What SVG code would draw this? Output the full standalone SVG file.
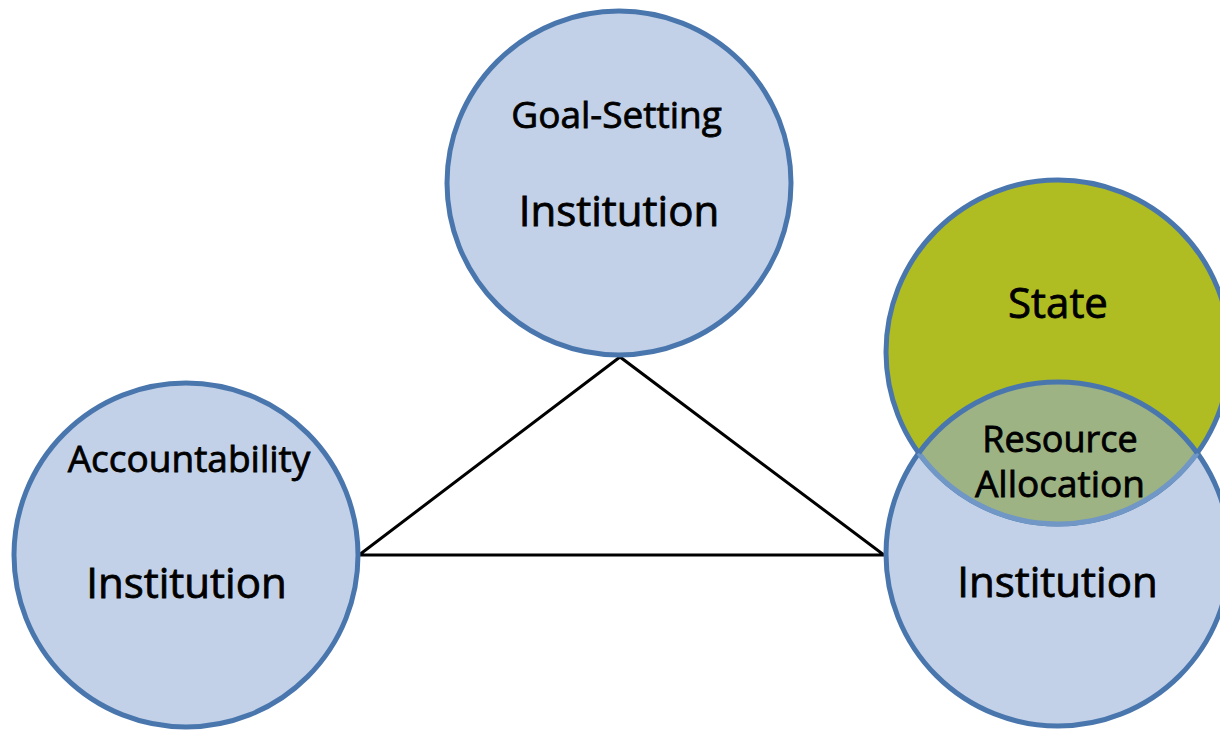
<svg xmlns="http://www.w3.org/2000/svg" width="1220" height="730" viewBox="0 0 1220 730">
<style>
.inst{fill:#c2d1e7;stroke:#4a76ae;stroke-width:5}
.state{fill:#afbd22;stroke:#4a76ae;stroke-width:5}
.t{font-family:"Open Sans","DejaVu Sans",sans-serif;fill:#000;stroke:#000;stroke-width:0.8;text-anchor:middle}
.big{font-size:42px}
.small{font-size:37px}
.mid{font-size:36px}
.edge{stroke:#000;stroke-width:3;fill:none}
</style>
<rect width="1220" height="730" fill="#fff"/>
<g id="connectors">
<path class="edge" d="M620 357 L359 555 L884 555 Z"/>
</g>
<g id="goal-setting">
<circle class="inst" cx="619" cy="183" r="172"/>
<text class="t small" x="616.5" y="128">Goal-Setting</text>
<text class="t big" x="619" y="226">Institution</text>
</g>
<g id="accountability">
<circle class="inst" cx="186" cy="555" r="172"/>
<text class="t small" x="189" y="472">Accountability</text>
<text class="t big" x="186.5" y="598">Institution</text>
</g>
<g id="resource-allocation">
<circle class="inst" cx="1058" cy="554" r="172"/>
<text class="t big" x="1057.5" y="597">Institution</text>
</g>
<g id="state">
<circle class="state" cx="1058" cy="352" r="172"/>
<text class="t big" x="1058" y="318">State</text>
</g>
<g id="overlap">
<path d="M918.8 453 A172 172 0 0 1 1197.2 453 A172 172 0 0 1 918.8 453 Z" fill="#9db384"/>
<path d="M1197.2 453 A172 172 0 0 1 918.8 453" fill="none" stroke="#7097c5" stroke-width="5"/>
<path d="M918.8 453 A172 172 0 0 1 1197.2 453" fill="none" stroke="#4a76ae" stroke-width="5"/>
<text class="t mid" x="1060" y="452">Resource</text>
<text class="t small" x="1060" y="497">Allocation</text>
</g>
</svg>
